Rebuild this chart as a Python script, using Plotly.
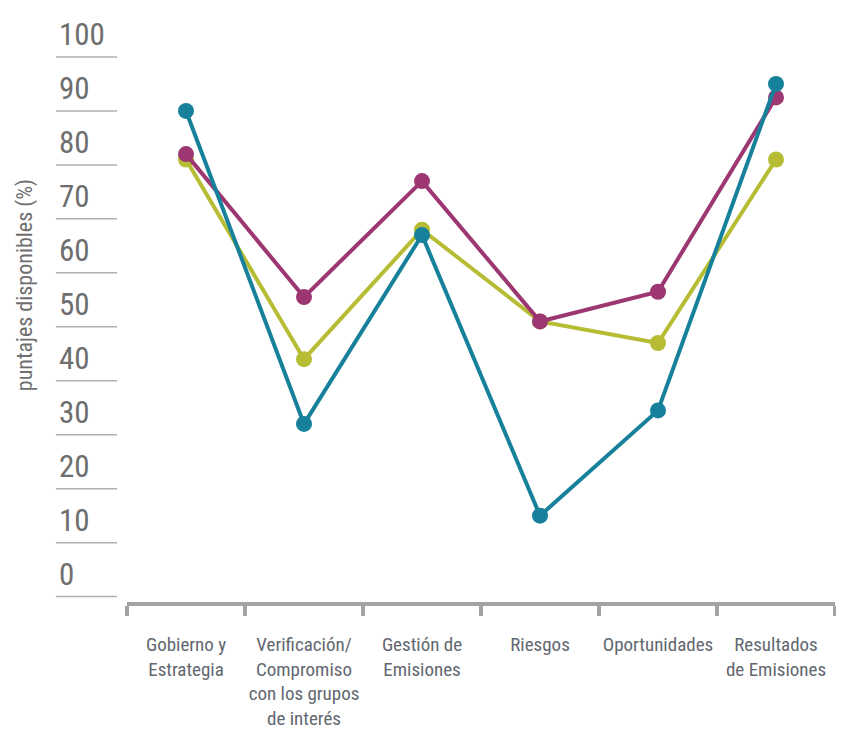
import plotly.graph_objects as go

_TEAL = "#17809a"
_MAGENTA = "#9c3772"
_OLIVE = "#b6bd34"
_AXIS = "#a3a3a3"
_TEXT = "#626770"
_FONT = "Liberation Sans Narrow, Roboto Condensed, Arial Narrow, Roboto, sans-serif"

categories = [
    "Gobierno y<br>Estrategia",
    "Verificación/<br>Compromiso<br>con los grupos<br>de interés",
    "Gestión de<br>Emisiones",
    "Riesgos",
    "Oportunidades",
    "Resultados<br>de Emisiones",
]
serie_olive = [81, 44, 68, 51, 47, 81]
serie_magenta = [82, 55.5, 77, 51, 56.5, 92.5]
serie_teal = [90, 32, 67, 15, 34.5, 95]
y_ticks = [0, 10, 20, 30, 40, 50, 60, 70, 80, 90, 100]

fig = go.Figure()
for vals, col, name in [(serie_olive, _OLIVE, "Serie 3"),
                        (serie_magenta, _MAGENTA, "Serie 2"),
                        (serie_teal, _TEAL, "Serie 1")]:
    fig.add_trace(go.Scatter(
        x=categories, y=vals, name=name, mode="lines+markers",
        line=dict(color=col, width=4),
        marker=dict(color=col, size=16),
    ))

# y "axis": short rules with the value written just above
for v in y_ticks:
    fig.add_shape(type="line", xref="paper", yref="y",
                  x0=-0.1003, x1=-0.0141, y0=v, y1=v,
                  line=dict(color="#b0b0b0", width=1.5))
    fig.add_annotation(xref="paper", yref="y", x=-0.0989, y=v,
                       text=str(v), showarrow=False,
                       xanchor="left", yanchor="bottom", yshift=2,
                       font=dict(family=_FONT, size=31, color="#6e6e6e"))

fig.add_annotation(xref="paper", yref="paper", x=-0.144, y=0.554,
                   text="puntajes disponibles (%)", textangle=-90,
                   showarrow=False, xanchor="center", yanchor="middle",
                   font=dict(family=_FONT, size=22, color="#6e6e6e"))

fig.update_layout(
    paper_bgcolor="#FFFFFF", plot_bgcolor="#FFFFFF",
    showlegend=False,
    margin=dict(l=119, r=1, t=22, b=130),
    font=dict(family=_FONT, color=_TEXT, size=19),
    xaxis=dict(
        type="category", range=[-0.5, 5.5],
        showgrid=False, zeroline=False,
        showline=True, linecolor=_AXIS, linewidth=4,
        ticks="outside", tickson="boundaries", ticklen=10,
        tickwidth=4, tickcolor=_AXIS, tickangle=0,
        ticklabelstandoff=22,
        tickfont=dict(family=_FONT, size=19, color=_TEXT),
    ),
    yaxis=dict(
        range=[-1, 105], showgrid=False, zeroline=False,
        showline=False, showticklabels=False, ticks="",
    ),
)

fig.write_html("out.html")
